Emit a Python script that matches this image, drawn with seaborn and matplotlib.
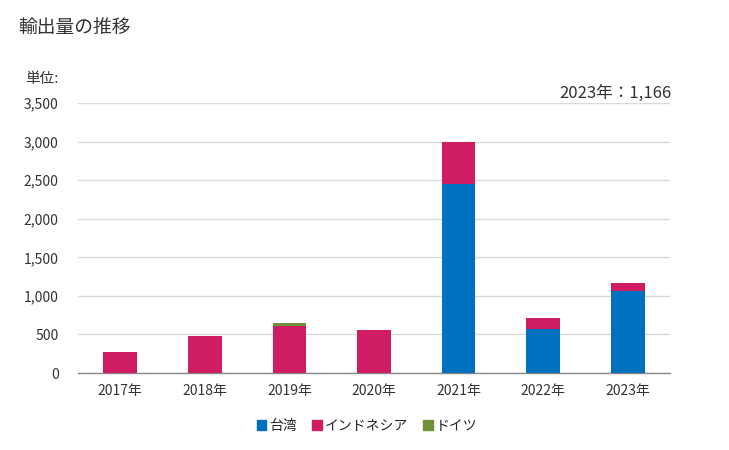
import matplotlib
matplotlib.use("Agg")
import matplotlib.pyplot as plt
from matplotlib.patches import Patch
import pandas as pd
import seaborn as sns

years = ["2017年", "2018年", "2019年", "2020年", "2021年", "2022年", "2023年"]
taiwan = [0, 0, 0, 0, 2455, 570, 1063]
indonesia = [272, 480, 610, 557, 540, 143, 103]
germany = [0, 0, 38, 0, 0, 0, 0]

colors = {"台湾": "#0070C0", "インドネシア": "#D01C62", "ドイツ": "#6E913A"}

sns.set_theme(style="white")
plt.rcParams["font.family"] = ["Noto Sans CJK JP", "DejaVu Sans"]

df = pd.DataFrame({"year": years, "台湾": taiwan, "インドネシア": indonesia, "ドイツ": germany})
df["lvl1"] = df["台湾"]
df["lvl2"] = df["lvl1"] + df["インドネシア"]
df["lvl3"] = df["lvl2"] + df["ドイツ"]

fig = plt.figure(figsize=(7.29, 4.5), dpi=100)
ax = fig.add_axes([0.107, 0.171, 0.812, 0.6])

# stacked bars drawn as overlapping cumulative totals
for col, name in [("lvl3", "ドイツ"), ("lvl2", "インドネシア"), ("lvl1", "台湾")]:
    sns.barplot(data=df, x="year", y=col, color=colors[name], width=0.4,
                saturation=1, linewidth=0, ax=ax, zorder=3)

ax.set_ylim(0, 3500)
ax.set_yticks(range(0, 3501, 500))
ax.set_yticklabels([f"{v:,}" for v in range(0, 3501, 500)], fontsize=10, color="#333333")
ax.tick_params(axis="x", labelsize=10, colors="#333333", length=0, pad=8)
ax.tick_params(axis="y", length=0, pad=14)
ax.set_xlabel("")
ax.set_ylabel("")
ax.grid(axis="y", color="#d9d9d9", linewidth=1, zorder=0)
for s in ["top", "right", "left"]:
    ax.spines[s].set_visible(False)
ax.spines["bottom"].set_color("#888888")
ax.spines["bottom"].set_linewidth(1)

fig.text(18 / 729, 1 - 27 / 450, "輸出量の推移", fontsize=13.5, va="center", ha="left", color="#333333")
fig.text(25 / 729, 1 - 79 / 450, "単位:", fontsize=10.5, va="center", ha="left", color="#333333")
fig.text(672 / 729, 1 - 93 / 450, "2023年：1,166", fontsize=12, va="center", ha="right", color="#333333")

handles = [Patch(color=colors[n], label=n) for n in ["台湾", "インドネシア", "ドイツ"]]
fig.legend(handles=handles, loc="center", bbox_to_anchor=(367 / 729, 1 - 426 / 450), ncol=3,
           frameon=False, fontsize=10, handlelength=0.7, handleheight=0.7,
           handletextpad=0.2, columnspacing=1.1)

fig.savefig("out.png", dpi=100)
